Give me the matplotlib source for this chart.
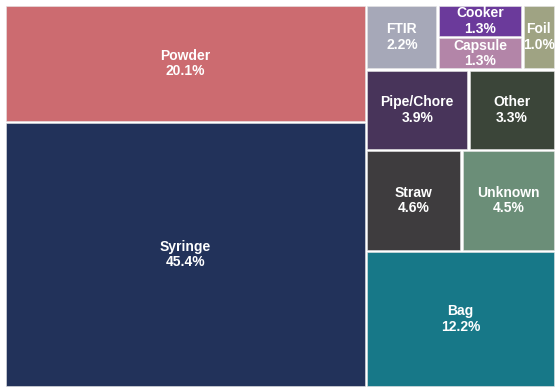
import matplotlib.pyplot as plt
from matplotlib.patches import Rectangle

# share of items by type (%)
labels = ['Syringe', 'Powder', 'Bag', 'Straw', 'Unknown', 'Pipe/Chore',
          'Other', 'FTIR', 'Capsule', 'Cooker', 'Foil']
shares = [45.4, 20.1, 12.2, 4.6, 4.5, 3.9, 3.3, 2.2, 1.3, 1.3, 1.0]
colors = ['#22325a', '#cc6b70', '#177888', '#3e3c3e', '#6b8e78', '#48345a',
          '#3b4539', '#a6a8b8', '#b385a8', '#6b3a9b', '#9fa383']
# how the layout grouped the items into strips:
# 'v' = column along the left edge, 'h' = row along the bottom edge
rows = [(2, 'v'), (1, 'h'), (2, 'h'), (2, 'h'), (1, 'v'), (2, 'v'), (1, 'v')]


def layout(values, rows, x0, y0, x1, y1):
    rects = []
    total = sum(values)
    i = 0
    for n, d in rows:
        grp = values[i:i + n]
        s = sum(grp)
        dx, dy = x1 - x0, y1 - y0
        if d == 'h':
            h = dy * s / total
            x = x0
            for v in grp:
                w = dx * v / s
                rects.append((x, y0, w, h))
                x += w
            y0 += h
        else:
            w = dx * s / total
            y = y0
            for v in grp:
                h = dy * v / s
                rects.append((x0, y, w, h))
                y += h
            x0 += w
        total -= s
        i += n
    return rects


plt.rcParams['font.family'] = ['Liberation Sans', 'DejaVu Sans']

fig = plt.figure(figsize=(5.6, 3.92), dpi=100)
ax = fig.add_axes([0, 0, 1, 1])
ax.set_xlim(0, 560)
ax.set_ylim(0, 392)
ax.axis('off')

gap = 1.2
for (x, y, w, h), lab, val, c in zip(layout(shares, rows, 5, 5, 555, 387),
                                     labels, shares, colors):
    ax.add_patch(Rectangle((x + gap, y + gap), w - 2 * gap, h - 2 * gap,
                           facecolor=c, edgecolor='#e6e6e6', linewidth=0.4))
    ax.text(x + w / 2, y + h / 2, f'{lab}\n{val:.1f}%', color='white',
            ha='center', va='center', fontsize=10, fontweight='bold',
            linespacing=1.15)

fig.savefig('out.png', dpi=100, facecolor='white')
